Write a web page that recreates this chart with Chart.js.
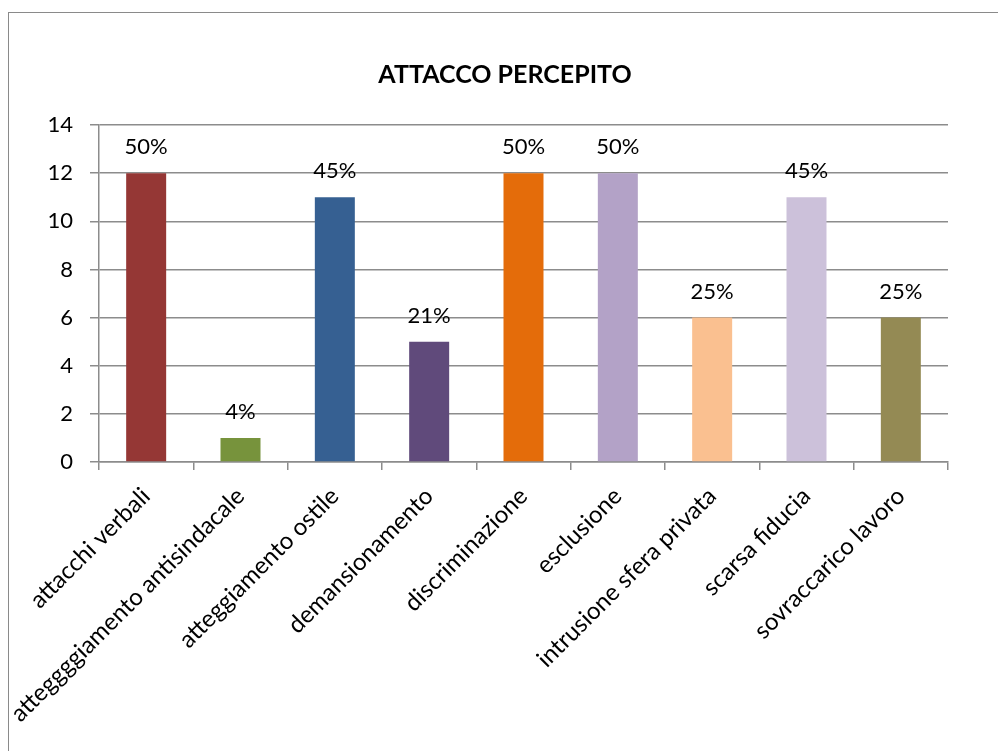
<!DOCTYPE html>
<html>
<head>
<meta charset="utf-8">
<script src="https://cdn.jsdelivr.net/npm/chart.js@4"></script>
<style>
  html, body { margin: 0; padding: 0; background: #fff; }
  body { width: 998px; height: 751px; position: relative; overflow: hidden; }
  #frame { position: absolute; left: 8px; top: 12px; width: 1100px; height: 900px; border: 1.5px solid #8a8a8a; box-sizing: border-box; }
  #wrap { position: absolute; left: 0; top: 0; width: 998px; height: 751px; }
</style>
</head>
<body>
<div id="frame"></div>
<div id="wrap"><canvas id="c" width="998" height="751"></canvas></div>
<script>
const categories = [
  "attacchi verbali",
  "atteggggiamento antisindacale",
  "atteggiamento ostile",
  "demansionamento",
  "discriminazione",
  "esclusione",
  "intrusione sfera privata",
  "scarsa fiducia",
  "sovraccarico lavoro"
];
const values = [12, 1, 11, 5, 12, 12, 6, 11, 6];
const percentLabels = ["50%", "4%", "45%", "21%", "50%", "50%", "25%", "45%", "25%"];
const barColors = ["#953735", "#77933C", "#366092", "#604A7B", "#E46C0A", "#B3A2C7", "#FAC090", "#CCC1DA", "#948A54"];
const yTicks = [0, 2, 4, 6, 8, 10, 12, 14];
const chartTitle = "ATTACCO PERCEPITO";

const FONT = "Lato, 'Open Sans', sans-serif";
const GRID = "#8c8c8c";

const titlePlugin = {
  id: 'customTitle',
  afterDraw(chart) {
    const ctx = chart.ctx;
    ctx.save();
    ctx.font = "bold 25px " + FONT;
    ctx.fillStyle = "#000";
    ctx.textAlign = "center";
    ctx.textBaseline = "middle";
    ctx.fillText(chartTitle, 505, 75);
    ctx.restore();
  }
};

const pctPlugin = {
  id: 'pctLabels',
  afterDatasetsDraw(chart) {
    const ctx = chart.ctx;
    const meta = chart.getDatasetMeta(0);
    ctx.save();
    ctx.font = "22px " + FONT;
    ctx.fillStyle = "#000";
    ctx.textAlign = "center";
    ctx.textBaseline = "middle";
    meta.data.forEach((bar, i) => {
      ctx.fillText(percentLabels[i], bar.x, bar.y - 26);
    });
    ctx.restore();
  }
};

new Chart(document.getElementById('c'), {
  type: 'bar',
  data: {
    labels: categories,
    datasets: [{
      data: values,
      backgroundColor: barColors,
      borderWidth: 0,
      categoryPercentage: 1,
      barPercentage: 0.424
    }]
  },
  options: {
    responsive: false,
    animation: false,
    devicePixelRatio: 1,
    layout: { padding: { left: 8, top: 125, right: 50, bottom: 0 } },
    plugins: {
      legend: { display: false },
      tooltip: { enabled: false },
      title: { display: false }
    },
    scales: {
      x: {
        grid: { offset: true, drawOnChartArea: false, drawTicks: true, tickLength: 8, color: GRID, lineWidth: 1.5 },
        border: { display: true, color: GRID, width: 1.5 },
        ticks: {
          autoSkip: false, minRotation: 45, maxRotation: 45,
          color: "#000", font: { family: FONT, size: 24 }, padding: 12
        },
        afterFit(scale) { scale.height = 751 - 462; }
      },
      y: {
        min: 0, max: 14,
        afterBuildTicks(scale) { scale.ticks = yTicks.map(v => ({ value: v })); },
        grid: { drawTicks: true, tickLength: 9, color: GRID, lineWidth: 1.5 },
        border: { display: true, color: GRID, width: 1.5 },
        ticks: { color: "#000", font: { family: FONT, size: 22 }, padding: 17 },
        afterFit(scale) { scale.width = 99 - 8; }
      }
    }
  },
  plugins: [pctPlugin, titlePlugin]
});
</script>
</body>
</html>
